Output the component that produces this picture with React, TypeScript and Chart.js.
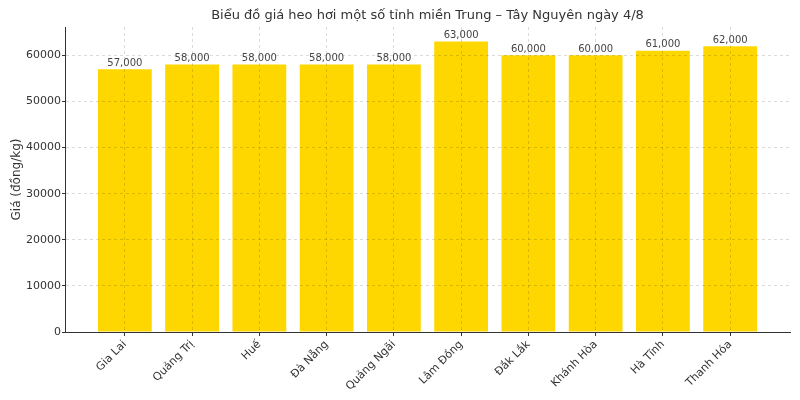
import { useEffect, useRef } from "react";
import { Chart, registerables } from "chart.js";

Chart.register(...registerables);

const chartTitle = "Biểu đồ giá heo hơi một số tỉnh miền Trung – Tây Nguyên ngày 4/8";
const yAxisTitle = "Giá (đồng/kg)";
const provinces = [
  "Gia Lai",
  "Quảng Trị",
  "Huế",
  "Đà Nẵng",
  "Quảng Ngãi",
  "Lâm Đồng",
  "Đắk Lắk",
  "Khánh Hòa",
  "Hà Tĩnh",
  "Thanh Hóa",
];
const prices = [57000, 58000, 58000, 58000, 58000, 63000, 60000, 60000, 61000, 62000];
const yTicks = [0, 10000, 20000, 30000, 40000, 50000, 60000];

const FONT = "'DejaVu Sans', sans-serif";

// title centred over the plot area, like matplotlib does
const titlePlugin = {
  id: "axesTitle",
  afterDraw(chart: Chart) {
    const { ctx, chartArea } = chart;
    ctx.save();
    ctx.font = `13px ${FONT}`;
    ctx.fillStyle = "#333333";
    ctx.textAlign = "center";
    ctx.textBaseline = "bottom";
    ctx.fillText(chartTitle, (chartArea.left + chartArea.right) / 2, chartArea.top - 5);
    ctx.restore();
  },
};

// value labels above each bar
const barLabels = {
  id: "barLabels",
  afterDraw(chart: Chart) {
    const { ctx } = chart;
    const meta = chart.getDatasetMeta(0);
    ctx.save();
    ctx.font = `10px ${FONT}`;
    ctx.fillStyle = "#444444";
    ctx.textAlign = "center";
    ctx.textBaseline = "bottom";
    meta.data.forEach((bar: any, i: number) => {
      ctx.fillText(prices[i].toLocaleString("en-US"), bar.x, bar.y - 1);
    });
    ctx.restore();
  },
};

export default function App() {
  const canvasRef = useRef<HTMLCanvasElement | null>(null);

  useEffect(() => {
    document.body.style.margin = "0";
    if (!canvasRef.current) return;

    const chart = new Chart(canvasRef.current, {
      type: "bar",
      data: {
        datasets: [
          {
            data: prices.map((v, i) => ({ x: i, y: v })),
            backgroundColor: "#FFD700",
            borderWidth: 0,
            barPercentage: 0.8,
            categoryPercentage: 1,
          },
        ],
      },
      options: {
        animation: false,
        responsive: false,
        events: [],
        layout: { padding: { top: 27, right: 10, left: 0, bottom: 0 } },
        plugins: {
          legend: { display: false },
          tooltip: { enabled: false },
          title: { display: false },
        },
        scales: {
          x: {
            type: "linear",
            min: -0.89,
            max: 9.89,
            offset: false,
            afterBuildTicks: (axis: any) => {
              axis.ticks = provinces.map((_, i) => ({ value: i }));
            },
            afterFit: (axis: any) => {
              axis.height = 68;
            },
            grid: {
              z: 1, // grid drawn over the bars
              offset: false,
              color: "rgba(0,0,0,0.14)",
              tickColor: "#333333",
              tickLength: 4,
              tickBorderDash: [],
            },
            border: { z: 2, color: "#333333", width: 1, dash: [3, 3] },
            ticks: {
              autoSkip: false,
              maxRotation: 45,
              minRotation: 45,
              padding: 2,
              color: "#333333",
              font: { family: FONT, size: 11 },
              callback: (value: any) => provinces[value] ?? "",
            },
          },
          y: {
            min: 0,
            max: 66150,
            afterBuildTicks: (axis: any) => {
              axis.ticks = yTicks.map((v) => ({ value: v }));
            },
            afterFit: (axis: any) => {
              axis.width = 65;
            },
            grid: {
              z: 1,
              color: "rgba(0,0,0,0.14)",
              tickColor: "#333333",
              tickLength: 3,
              tickBorderDash: [],
            },
            border: { z: 2, color: "#333333", width: 1, dash: [3, 3] },
            ticks: {
              padding: 1,
              color: "#333333",
              font: { family: FONT, size: 11 },
              callback: (value: any) => String(value),
            },
            title: {
              display: true,
              text: yAxisTitle,
              color: "#333333",
              font: { family: FONT, size: 12 },
              padding: { top: 10, bottom: 0 },
            },
          },
        },
      },
      plugins: [titlePlugin, barLabels],
    });

    return () => {
      chart.destroy();
    };
  }, []);

  return (
    <div style={{ width: 800, height: 400 }}>
      <canvas ref={canvasRef} width={800} height={400}></canvas>
    </div>
  );
}
